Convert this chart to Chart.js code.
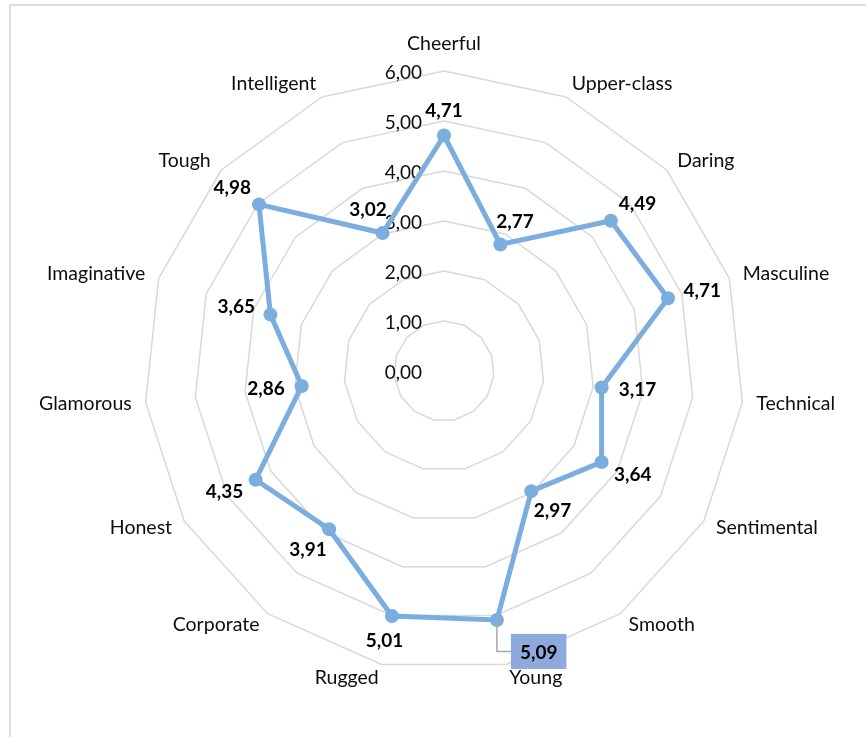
<!DOCTYPE html>
<html>
<head>
<meta charset="utf-8">
<script src="https://cdn.jsdelivr.net/npm/chart.js@4"></script>
<style>
html,body{margin:0;padding:0;background:#fff;width:866px;height:737px;overflow:hidden;}
#frame{position:absolute;left:9px;top:4px;width:870px;height:740px;border-left:2px solid #dcdcdc;border-top:2px solid #dcdcdc;}
#c{position:absolute;left:0;top:0;}
</style>
</head>
<body>
<div id="frame"></div>
<canvas id="c" width="866" height="737"></canvas>
<script>
const categories = ['Cheerful','Upper-class','Daring','Masculine','Technical','Sentimental','Smooth','Young','Rugged','Corporate','Honest','Glamorous','Imaginative','Tough','Intelligent'];
const brandValues = [4.71,2.77,4.49,4.71,3.17,3.64,2.97,5.09,5.01,3.91,4.35,2.86,3.65,4.98,3.02];
const tickValues = [0,1,2,3,4,5,6];

const fmt = v => v.toFixed(2).replace('.', ',');
const LINE = '#7BADDF';
const TEXT = '#0d0d0d';

const tickPlugin = {
  id: 'tickLabels',
  beforeDatasetsDraw(chart) {
    const s = chart.scales.r, ctx = chart.ctx;
    ctx.save();
    ctx.font = '19px Lato';
    ctx.fillStyle = TEXT;
    ctx.textAlign = 'right';
    ctx.textBaseline = 'middle';
    tickValues.forEach(v => {
      const d = s.getDistanceFromCenterForValue(v);
      ctx.fillText(fmt(v), s.xCenter - 22, s.yCenter - d + 2);
    });
    // category labels around the outer ring
    ctx.font = '19.5px Lato';
    categories.forEach((c, i) => {
      const p = s.getPointPosition(i, s.drawingArea + 14);
      const ang = i * 2 * Math.PI / categories.length;
      const sn = Math.sin(ang), cs = Math.cos(ang);
      let y = p.y;
      if (Math.abs(sn) < 0.01) { ctx.textAlign = 'center'; y = p.y - cs * 13; }
      else ctx.textAlign = sn > 0 ? 'left' : 'right';
      ctx.fillText(c, p.x, y);
    });
    ctx.restore();
  }
};

const labelPlugin = {
  id: 'dataLabels',
  afterDatasetsDraw(chart) {
    const ctx = chart.ctx;
    const meta = chart.getDatasetMeta(0);
    const maxV = Math.max(...brandValues);
    ctx.save();
    ctx.font = 'bold 19px Lato';
    ctx.textAlign = 'center';
    ctx.textBaseline = 'middle';
    meta.data.forEach((pt, i) => {
      const v = brandValues[i];
      const ang = i * 2 * Math.PI / categories.length;
      const ux = Math.sin(ang), uy = -Math.cos(ang);
      const txt = fmt(v);
      if (v === maxV) {
        const w = ctx.measureText(txt).width + 18, h = 35;
        const bx = pt.x + 14, by = pt.y + 14;
        ctx.strokeStyle = '#a6a6a6'; ctx.lineWidth = 1.5;
        ctx.beginPath(); ctx.moveTo(pt.x, pt.y); ctx.lineTo(pt.x, by + h * 0.5); ctx.lineTo(bx, by + h * 0.5); ctx.stroke();
        ctx.fillStyle = '#8EA9DB';
        ctx.fillRect(bx, by, w, h);
        ctx.fillStyle = '#000';
        ctx.fillText(txt, bx + w / 2, by + h / 2 + 1);
        return;
      }
      const lx = pt.x + ux * 36, ly = pt.y + uy * 25;
      ctx.fillStyle = '#000';
      ctx.fillText(txt, lx, ly);
    });
    ctx.restore();
  }
};

new Chart(document.getElementById('c'), {
  type: 'radar',
  data: {
    labels: categories,
    datasets: [{
      data: brandValues,
      borderColor: LINE,
      backgroundColor: 'transparent',
      borderWidth: 5,
      pointRadius: 7,
      pointBackgroundColor: LINE,
      pointBorderColor: LINE,
      pointBorderWidth: 0,
      fill: false
    }]
  },
  options: {
    responsive: false,
    animation: false,
    devicePixelRatio: 1,
    layout: { padding: { left: 144, right: 122, top: 71, bottom: 66 } },
    plugins: { legend: { display: false }, tooltip: { enabled: false } },
    scales: {
      r: {
        min: 0, max: 6,
        ticks: { stepSize: 1, display: false },
        grid: { color: '#d9d9d9', lineWidth: 1.5 },
        angleLines: { display: false },
        pointLabels: { display: false }
      }
    }
  },
  plugins: [tickPlugin, labelPlugin]
});
</script>
</body>
</html>
